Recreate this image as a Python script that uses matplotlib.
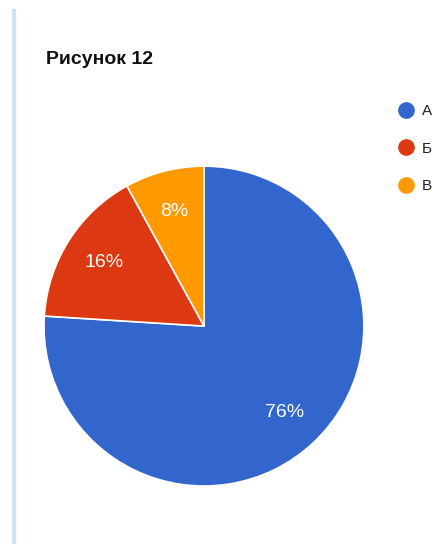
import matplotlib.pyplot as plt
from matplotlib.lines import Line2D

labels = ['А', 'Б', 'В']
values = [76, 16, 8]
colors = ['#3366cc', '#dc3912', '#ff9900']
title = 'Рисунок 12'

plt.rcParams['font.family'] = ['Liberation Sans', 'DejaVu Sans']

fig = plt.figure(figsize=(4.4, 5.44), dpi=100)
ax = fig.add_axes([0.1, 0.1066, 0.727, 0.588])

wedges, texts, autotexts = ax.pie(
    values, colors=colors, startangle=90, counterclock=False,
    autopct='%1.0f%%', pctdistance=0.74,
    wedgeprops=dict(edgecolor='white', linewidth=1.2),
    textprops=dict(color='white', fontsize=14))
ax.set_xlim(-1, 1)
ax.set_ylim(-1, 1)
ax.set_aspect('equal')

fig.text(46 / 440, 1 - 60 / 544, title, fontsize=14, fontweight='bold',
         va='center', ha='left', color='#111111')

# thin light-blue rule on the left
fig.add_artist(Line2D([14 / 440, 14 / 440], [0, 1 - 11 / 544],
                      color='#cfe2f3', lw=3))

handles = [Line2D([], [], marker='o', ls='', markersize=11,
                  markerfacecolor=c, markeredgecolor=c) for c in colors]
fig.legend(handles, labels, loc='upper left',
           bbox_to_anchor=(398 / 440, 1 - 104 / 544), frameon=False,
           fontsize=11, labelspacing=1.55, handletextpad=0.55,
           handlelength=1.0, borderaxespad=0, borderpad=0,
           labelcolor='#222222')

fig.savefig('out.png', dpi=100)
